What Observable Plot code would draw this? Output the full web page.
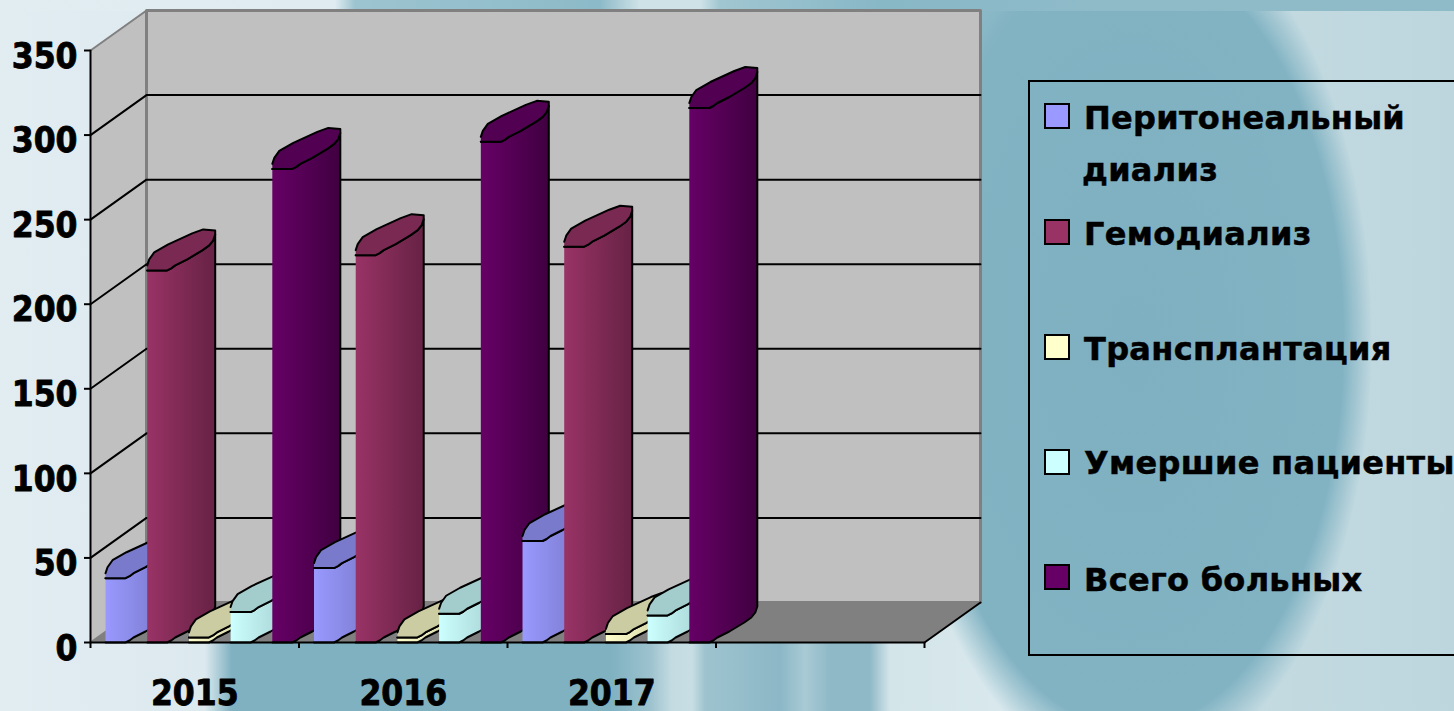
<!DOCTYPE html>
<html lang="ru">
<head>
<meta charset="utf-8">
<title>Пациенты по годам</title>
<script src="https://cdn.jsdelivr.net/npm/d3@7"></script>
<script src="https://cdn.jsdelivr.net/npm/@observablehq/plot@0.6"></script>
<style>
html,body{margin:0;padding:0;width:1454px;height:711px;overflow:hidden}
body{position:relative;background:
  linear-gradient(90deg,#e2edf2 0,#dfebf0 335px,#9cc4d0 355px,#8dbac8 600px,#cfe2e8 640px,#cfe2e8 700px,#a0c6d1 720px,#88b7c6 880px,#8fbbc9 1100px) 0 0/100% 11px no-repeat,
  radial-gradient(ellipse 240px 440px at 1132px 340px,#7fb0c1 0,#82b3c3 88%,rgba(130,179,195,0) 100%),
  linear-gradient(180deg,#8fbbc9 0,#8fbbc9 60px,rgba(143,187,201,0) 110px) 980px 0/210px 110px no-repeat,
  linear-gradient(90deg,#e2edf2 0,#dce9ef 205px,#7fb1c1 232px,#7fb1c1 610px,#9cc2ce 650px,#c4dbe2 672px,#c8dee4 692px,#9ec3cf 705px,#8cb7c6 780px,#a8cad5 805px,#8fb9c7 830px,#8fb9c7 870px,#d4e5ea 890px,#d8e8ed 1000px,#c2d9e0 1300px,#bdd6de 1454px);}
svg{position:absolute;left:0;top:0;background:transparent!important}
#legend{position:absolute;left:1028px;top:80px;width:440px;height:576px;border:2px solid #000;box-sizing:border-box}
.sw{position:absolute;left:1044px;width:26px;height:26px;border:2px solid #000;box-sizing:border-box}
.lb{position:absolute;font:700 32px/40px "DejaVu Sans",sans-serif;letter-spacing:.3px;color:#000;-webkit-text-stroke:.5px #000;white-space:nowrap;left:1084px}
</style>
</head>
<body>
<div id="legend"></div>
<script>
const years = ["2015", "2016", "2017"];
const seriesFirstLines = ["Перитонеальный", "Гемодиализ", "Трансплантация", "Умершие пациенты", "Всего больных"];
const peritoneal = [38, 44, 60];
const hemodialysis = [220, 229, 234];
const transplant = [3, 3, 5];
const deceased = [18, 17, 16];
const total = [280, 296, 316];
const yTicks = [0, 50, 100, 150, 200, 250, 300, 350];
const xTicks = [0, 1, 2, 3, 4];

const faceLeft = ["#9999ff", "#993366", "#ffffcc", "#ccffff", "#660066"];
const faceRight = ["#7575c4", "#662244", "#c9c9a0", "#9fc8c8", "#400040"];
const topFace = ["#7a7acc", "#7a2952", "#cccca3", "#a3cccc", "#520052"];

const W = 1454, H = 711, mL = 90, mR = 530, mT = 50, mB = 69;
const kx = (W - mL - mR) / 4, ky = (H - mT - mB) / 350;
const depthX = 56 / kx, depthY = 40 / ky;

const frontCurve = [[0,0],[20,0],[24,-2],[28,-5],[40,-11],[55,-20],[62,-25],[66,-30],[68,-36]];
const backCurve = [[68,-40],[56,-41],[45,-37],[21,-26],[7,-18],[2,-11],[0,-5]];

const seriesValues = [peritoneal, hemodialysis, transplant, deceased, total];

function barMarks(cat, s, v) {
  const x0 = cat + 0.072 + s / 5;
  const at = (base) => ([px, py]) => ({x: x0 + px / kx, y: base - py / ky});
  const body = [...frontCurve.map(at(v)), ...frontCurve.slice().reverse().map(at(0))];
  const top = [...frontCurve.map(at(v)), ...backCurve.map(at(v))];
  const common = {x: "x", y: "y", stroke: "#000", strokeWidth: 2, strokeLinejoin: "round"};
  return [
    Plot.line(body, {...common, fill: `url(#barface${s})`}),
    Plot.line(top, {...common, fill: topFace[s]})
  ];
}

const gradients = () => {
  const defs = d3.create("svg:defs");
  faceLeft.forEach((c, i) => {
    const g = defs.append("linearGradient").attr("id", `barface${i}`).attr("x1", 0).attr("x2", 1).attr("y1", 0).attr("y2", 0);
    g.append("stop").attr("offset", "0%").attr("stop-color", c);
    g.append("stop").attr("offset", "100%").attr("stop-color", faceRight[i]);
  });
  return defs.node();
};

const leftWall = [{x:0,y:0},{x:depthX,y:depthY},{x:depthX,y:350+depthY},{x:0,y:350}];
const backWall = [{x:depthX,y:depthY},{x:4+depthX,y:depthY},{x:4+depthX,y:350+depthY},{x:depthX,y:350+depthY},{x:depthX,y:depthY}];
const floor = [{x:0,y:0},{x:depthX,y:depthY},{x:4+depthX,y:depthY},{x:4,y:0}];

const gridMarks = yTicks.slice(1, -1).map(v => Plot.line(
  [{x:0,y:v},{x:depthX,y:v+depthY},{x:4+depthX,y:v+depthY}], {x:"x",y:"y",stroke:"#000",strokeWidth:2}));

const bars = [];
years.forEach((_, c) => seriesValues.forEach((vals, s) => bars.push(...barMarks(c, s, vals[c]))));

const fontFamily = '"DejaVu Sans Condensed","DejaVu Sans",sans-serif';
const labelStyle = {fontFamily, fontWeight: 700, fontSize: 35, fill: "#000", stroke: "#000", strokeWidth: 0.8};
const chart = Plot.plot({
  width: W, height: H, marginLeft: mL, marginRight: mR, marginTop: mT, marginBottom: mB,
  style: {background: "transparent", overflow: "visible"},
  x: {domain: [0, 4], axis: null},
  y: {domain: [0, 350], axis: null},
  marks: [
    gradients,
    Plot.line(leftWall, {x:"x",y:"y",fill:"#c0c0c0",stroke:"#808080",strokeWidth:2}),
    Plot.line(backWall, {x:"x",y:"y",fill:"#c0c0c0",stroke:"#808080",strokeWidth:3}),
    Plot.line(floor, {x:"x",y:"y",fill:"#808080",stroke:"none"}),
    ...gridMarks,
    Plot.line([{x:0,y:0},{x:0,y:350}], {x:"x",y:"y",stroke:"#000",strokeWidth:2}),
    Plot.line([{x:4,y:0},{x:4+depthX,y:depthY}], {x:"x",y:"y",stroke:"#000",strokeWidth:2}),
    ...bars,
    Plot.line([{x:0,y:0},{x:4,y:0}], {x:"x",y:"y",stroke:"#000",strokeWidth:2}),
    Plot.axisY({ticks: yTicks, tickSize: 6, tickFormat: () => "", label: null, strokeWidth: 2, stroke:"#000"}),
    Plot.axisX({ticks: xTicks, tickSize: 6, tickFormat: () => "", label: null, strokeWidth: 2, stroke:"#000"}),
    Plot.text(yTicks, {x: () => 0, y: d => d, text: d => String(d), dx: -13, dy: 6, textAnchor: "end", ...labelStyle}),
    Plot.text(years, {x: (d, i) => i + 0.5, y: () => 0, text: d => d, dy: 51, textAnchor: "middle", ...labelStyle})
  ]
});
chart.style.fontStretch = "condensed";
document.body.appendChild(chart);

const swatchCentres = [116, 232, 347, 462, 577];
const labelCentres = [118, 234, 349, 463, 580];
seriesFirstLines.forEach((n, i) => {
  const sw = document.createElement("div");
  sw.className = "sw"; sw.style.top = (swatchCentres[i] - 13) + "px"; sw.style.background = faceLeft[i];
  document.body.appendChild(sw);
  const lb = document.createElement("div");
  lb.className = "lb"; lb.style.top = (labelCentres[i] - 20) + "px";
  lb.textContent = n;
  document.body.appendChild(lb);
});
const second = document.createElement("div");
second.className = "lb"; second.style.top = "150px"; second.style.left = "1082px"; second.textContent = "диализ";
document.body.appendChild(second);
</script>
</body>
</html>
